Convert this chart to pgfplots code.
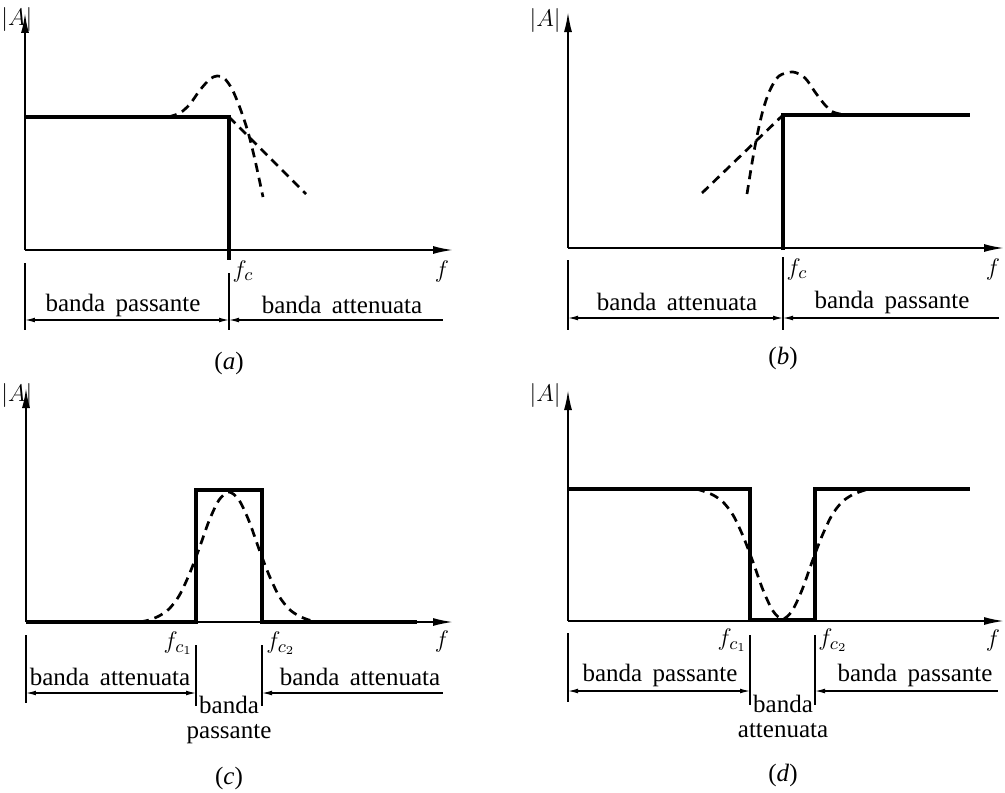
\documentclass[border=0pt]{standalone}
\usepackage{pgfplots}
\pgfplotsset{compat=1.18}
\usepackage{fontspec}
\setmainfont{Liberation Serif}
\usetikzlibrary{arrows.meta}

\pgfplotsset{
  filt/.style={
    scale only axis, clip=false, anchor=south west,
    axis lines=left, xtick=\empty, ytick=\empty, ymin=0,
    axis line style={line width=0.9pt},
    x axis line style={-{Latex[length=10pt,width=4pt]}},
    y axis line style={-{Latex[length=10pt,width=4pt]}},
  },
  ideal/.style={black, line width=1.6pt, mark=none},
  real/.style={black, line width=1.35pt, mark=none, dash pattern=on 4.5pt off 3pt},
}
\tikzset{
  lbl/.style={font=\fontsize{12.5}{12.5}\selectfont, inner sep=0pt},
  band/.style={line width=0.6pt},
  bar/.style={band, {Latex[length=5pt,width=2.4pt]}-{Latex[length=5pt,width=2.4pt]}},
  lbar/.style={band, {Latex[length=5pt,width=2.4pt]}-},
}

\begin{document}
\begin{tikzpicture}
\useasboundingbox (0,0) rectangle (502.5pt,-396pt);

% ---------------- (a) low-pass
\begin{axis}[filt, at={(12.5pt,-125pt)}, width=214pt, height=118.5pt,
  xmin=25, xmax=453, ymax=237]
\addplot[ideal] coordinates {(25,133) (229,133) (229,-10)};
\addplot[real, smooth] coordinates {(168,133) (180,137) (190,146) (200,160) (210,171) (217,174) (224,172) (232,161) (240,142) (248,118) (255,90) (263,53)};
\addplot[real] coordinates {(229,133) (306,56)};
\draw[band] (axis cs:25,-13) -- (axis cs:25,-80);
\draw[band] (axis cs:229,-23) -- (axis cs:229,-80);
\draw[bar] (axis cs:25,-70) -- (axis cs:229,-70);
\draw[lbar] (axis cs:229,-70) -- (axis cs:443,-70);
\node[lbl] at (axis cs:123,-55) {banda\, passante};
\node[lbl] at (axis cs:342,-55) {banda\, attenuata};
\node[lbl] at (axis cs:243,-21) {$f_c$};
\node[lbl] at (axis cs:442,-21) {$f$};
\node[lbl] at (axis cs:229,-113) {(\textit{a})};
\node[lbl, anchor=west] at (axis cs:1,230) {$|A|$};
\end{axis}

% ---------------- (b) high-pass
\begin{axis}[filt, at={(284pt,-124pt)}, width=218pt, height=118pt,
  xmin=568, xmax=1004, ymax=236]
\addplot[ideal] coordinates {(783,-2) (783,133) (970,133)};
\addplot[real, smooth] coordinates {(747,54) (752,85) (757,112) (763,138) (770,158) (779,172) (793,176) (805,170) (815,156) (825,143) (833,136) (845,133)};
\addplot[real] coordinates {(702,55) (783,133)};
\draw[band] (axis cs:568,-12) -- (axis cs:568,-82);
\draw[band] (axis cs:783,-9) -- (axis cs:783,-82);
\draw[bar] (axis cs:568,-70) -- (axis cs:783,-70);
\draw[lbar] (axis cs:783,-70) -- (axis cs:999,-70);
\node[lbl] at (axis cs:677,-54) {banda\, attenuata};
\node[lbl] at (axis cs:892,-54) {banda\, passante};
\node[lbl] at (axis cs:797,-21) {$f_c$};
\node[lbl] at (axis cs:993,-21) {$f$};
\node[lbl] at (axis cs:783,-110) {(\textit{b})};
\node[lbl, anchor=east] at (axis cs:561,228) {$|A|$};
\end{axis}

% ---------------- (c) band-pass
\begin{axis}[filt, at={(13pt,-311pt)}, width=213.5pt, height=117pt,
  xmin=26, xmax=453, ymax=234]
\addplot[ideal] coordinates {(26,0) (196,0) (196,132) (262,132) (262,0) (417,0)};
\addplot[real, smooth] coordinates {(140,0) (149,2) (159,6) (169,13) (179,26) (189,47) (199,73) (209,101) (219,122) (229,130) (239,122) (249,101) (259,73) (269,47) (279,26) (289,13) (299,6) (309,2) (318,0)};
\draw[band] (axis cs:26,-13) -- (axis cs:26,-81);
\draw[band] (axis cs:196,-23) -- (axis cs:196,-84);
\draw[band] (axis cs:262,-23) -- (axis cs:262,-84);
\draw[bar] (axis cs:26,-71) -- (axis cs:196,-71);
\draw[lbar] (axis cs:262,-71) -- (axis cs:443,-71);
\node[lbl] at (axis cs:110,-55) {banda\, attenuata};
\node[lbl] at (axis cs:360,-55) {banda\, attenuata};
\node[lbl, align=center] at (axis cs:229,-98) {banda\\passante};
\node[lbl, anchor=east] at (axis cs:193,-21) {$f_{c_1}$};
\node[lbl, anchor=west] at (axis cs:266,-21) {$f_{c_2}$};
\node[lbl] at (axis cs:442,-19) {$f$};
\node[lbl] at (axis cs:229,-156) {(\textit{c})};
\node[lbl, anchor=west] at (axis cs:1,227) {$|A|$};
\end{axis}

% ---------------- (d) band-stop
\begin{axis}[filt, at={(284pt,-310.5pt)}, width=218pt, height=115.5pt,
  xmin=568, xmax=1004, ymax=231]
\addplot[ideal] coordinates {(568,132) (750,132) (750,1) (815,1) (815,132) (970,132)};
\addplot[real, smooth] coordinates {(696,132) (703,130) (713,126) (723,119) (733,106) (743,85) (753,59) (763,31) (773,10) (782.5,2) (792,10) (802,31) (812,59) (822,85) (832,106) (842,119) (852,126) (862,130) (869,132)};
\draw[band] (axis cs:568,-12) -- (axis cs:568,-81);
\draw[band] (axis cs:750,-14) -- (axis cs:750,-84);
\draw[band] (axis cs:815,-14) -- (axis cs:815,-84);
\draw[bar] (axis cs:568,-70) -- (axis cs:750,-70);
\draw[lbar] (axis cs:815,-70) -- (axis cs:998,-70);
\node[lbl] at (axis cs:660,-54) {banda\, passante};
\node[lbl] at (axis cs:915,-54) {banda\, passante};
\node[lbl, align=center] at (axis cs:783,-95) {banda\\attenuata};
\node[lbl, anchor=east] at (axis cs:747,-19) {$f_{c_1}$};
\node[lbl, anchor=west] at (axis cs:818,-19) {$f_{c_2}$};
\node[lbl] at (axis cs:993,-19) {$f$};
\node[lbl] at (axis cs:783,-154) {(\textit{d})};
\node[lbl, anchor=east] at (axis cs:561,226) {$|A|$};
\end{axis}
\end{tikzpicture}
\end{document}
